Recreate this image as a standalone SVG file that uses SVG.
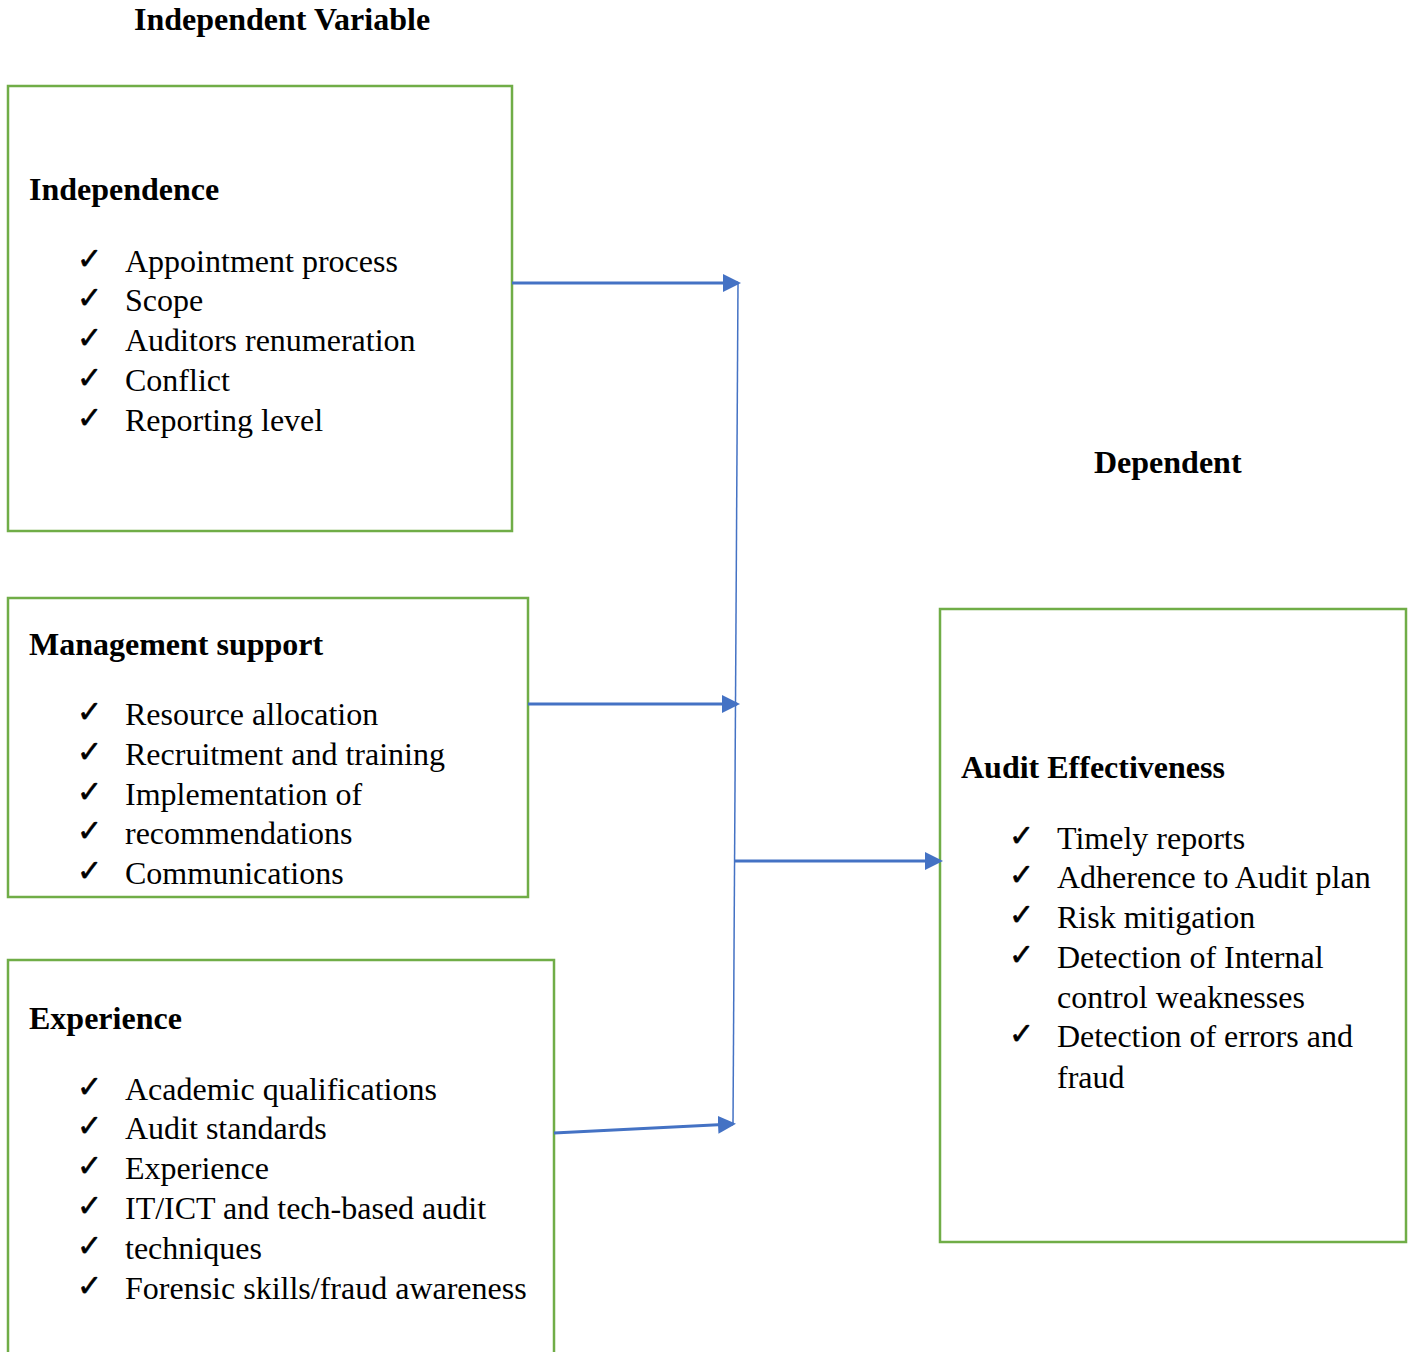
<svg xmlns="http://www.w3.org/2000/svg" width="1413" height="1352" viewBox="0 0 1413 1352">
<defs>
<style>
.box{fill:#fff;stroke:#70ad47;stroke-width:2.5}
.h{font-family:"Liberation Serif",serif;font-weight:bold;font-size:32px;fill:#000}
.t{font-family:"Liberation Serif",serif;font-size:32px;fill:#000}
.ck{font-family:"DejaVu Sans",sans-serif;font-size:30px;fill:#000;stroke:#000;stroke-width:0.6}
.c{stroke:#4472c4;stroke-width:3;fill:none}
.v{stroke:#4472c4;stroke-width:1.5;fill:none}
</style>
<marker id="ah" markerWidth="6" markerHeight="6" refX="5" refY="3" orient="auto" markerUnits="strokeWidth">
<path d="M0,0 L6,3 L0,6 z" fill="#4472c4"/>
</marker>
</defs>
<rect width="1413" height="1352" fill="#fff"/>
<text class="h" x="134" y="30">Independent Variable</text>
<text class="h" x="1094" y="473">Dependent</text>
<g id="independence">
<rect class="box" x="8" y="86" width="504" height="445"/>
<text class="h" x="29" y="200">Independence</text>
<text class="ck" x="77" y="269">✓</text><text class="t" x="125" y="272">Appointment process</text>
<text class="ck" x="77" y="308">✓</text><text class="t" x="125" y="311">Scope</text>
<text class="ck" x="77" y="348">✓</text><text class="t" x="125" y="351">Auditors renumeration</text>
<text class="ck" x="77" y="388">✓</text><text class="t" x="125" y="391">Conflict</text>
<text class="ck" x="77" y="428">✓</text><text class="t" x="125" y="431">Reporting level</text>
</g>
<g id="management">
<rect class="box" x="8" y="598" width="520" height="299"/>
<text class="h" x="29" y="655">Management support</text>
<text class="ck" x="77" y="722">✓</text><text class="t" x="125" y="725">Resource allocation</text>
<text class="ck" x="77" y="762">✓</text><text class="t" x="125" y="765">Recruitment and training</text>
<text class="ck" x="77" y="802">✓</text><text class="t" x="125" y="805">Implementation of</text>
<text class="ck" x="77" y="841">✓</text><text class="t" x="125" y="844">recommendations</text>
<text class="ck" x="77" y="881">✓</text><text class="t" x="125" y="884">Communications</text>
</g>
<g id="experience">
<rect class="box" x="8" y="960" width="546" height="420"/>
<text class="h" x="29" y="1029">Experience</text>
<text class="ck" x="77" y="1097">✓</text><text class="t" x="125" y="1100">Academic qualifications</text>
<text class="ck" x="77" y="1136">✓</text><text class="t" x="125" y="1139">Audit standards</text>
<text class="ck" x="77" y="1176">✓</text><text class="t" x="125" y="1179">Experience</text>
<text class="ck" x="77" y="1216">✓</text><text class="t" x="125" y="1219">IT/ICT and tech-based audit</text>
<text class="ck" x="77" y="1256">✓</text><text class="t" x="125" y="1259">techniques</text>
<text class="ck" x="77" y="1296">✓</text><text class="t" x="125" y="1299">Forensic skills/fraud awareness</text>
</g>
<g id="audit">
<rect class="box" x="940" y="609" width="466" height="633"/>
<text class="h" x="961" y="778">Audit Effectiveness</text>
<text class="ck" x="1009" y="846">✓</text><text class="t" x="1057" y="849">Timely reports</text>
<text class="ck" x="1009" y="885">✓</text><text class="t" x="1057" y="888">Adherence to Audit plan</text>
<text class="ck" x="1009" y="925">✓</text><text class="t" x="1057" y="928">Risk mitigation</text>
<text class="ck" x="1009" y="965">✓</text><text class="t" x="1057" y="968">Detection of Internal</text>
<text class="t" x="1057" y="1008">control weaknesses</text>
<text class="ck" x="1009" y="1044">✓</text><text class="t" x="1057" y="1047">Detection of errors and</text>
<text class="t" x="1057" y="1088">fraud</text>
</g>
<g id="connectors">
<line class="v" x1="738" y1="283" x2="733" y2="1124"/>
<line class="c" x1="512" y1="283" x2="738" y2="283" marker-end="url(#ah)"/>
<line class="c" x1="528" y1="704" x2="737" y2="704" marker-end="url(#ah)"/>
<line class="c" x1="554" y1="1133" x2="733" y2="1124" marker-end="url(#ah)"/>
<line class="c" x1="734" y1="861" x2="940" y2="861" marker-end="url(#ah)"/>
</g>
</svg>
